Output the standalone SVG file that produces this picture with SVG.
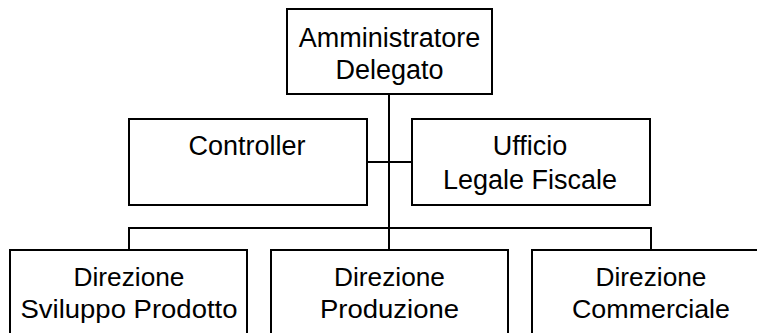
<svg xmlns="http://www.w3.org/2000/svg" width="757" height="333" viewBox="0 0 757 333">
<style>
.box{fill:#fff;stroke:#000;stroke-width:2}
.ln{fill:none;stroke:#000;stroke-width:2}
text{font-family:"Liberation Sans",Arial,sans-serif;fill:#000;text-anchor:middle}
.t{font-size:27px}
.m{font-size:27px}
.b{font-size:26.5px}
</style>
<rect width="757" height="333" fill="#fff"/>
<g id="connectors">
<path class="ln" d="M389,94 V228"/>
<path class="ln" d="M367,162 H412"/>
<path class="ln" d="M129,250 V228 H651 V250"/>
<path class="ln" d="M389,228 V250"/>
</g>
<g id="ad">
<rect class="box" x="287" y="9" width="205" height="85"/>
<text class="t" x="389.5" y="47">Amministratore</text>
<text class="t" x="389.5" y="79">Delegato</text>
</g>
<g id="controller">
<rect class="box" x="129" y="119" width="238" height="86"/>
<text class="m" x="247" y="154.5">Controller</text>
</g>
<g id="ufficio">
<rect class="box" x="412" y="119" width="238" height="86"/>
<text class="m" x="530" y="154.5">Ufficio</text>
<text class="m" x="530" y="188.5">Legale Fiscale</text>
</g>
<g id="sviluppo">
<rect class="box" x="10" y="250" width="237" height="100"/>
<text class="b" x="129" y="286" textLength="111" lengthAdjust="spacingAndGlyphs">Direzione</text>
<text class="b" x="129" y="318" textLength="217" lengthAdjust="spacingAndGlyphs">Sviluppo Prodotto</text>
</g>
<g id="produzione">
<rect class="box" x="271" y="250" width="237" height="100"/>
<text class="b" x="389.5" y="286" textLength="111" lengthAdjust="spacingAndGlyphs">Direzione</text>
<text class="b" x="389.5" y="318" textLength="139" lengthAdjust="spacingAndGlyphs">Produzione</text>
</g>
<g id="commerciale">
<rect class="box" x="532" y="250" width="237" height="100"/>
<text class="b" x="651" y="286" textLength="111" lengthAdjust="spacingAndGlyphs">Direzione</text>
<text class="b" x="651" y="318" textLength="158" lengthAdjust="spacingAndGlyphs">Commerciale</text>
</g>
</svg>
